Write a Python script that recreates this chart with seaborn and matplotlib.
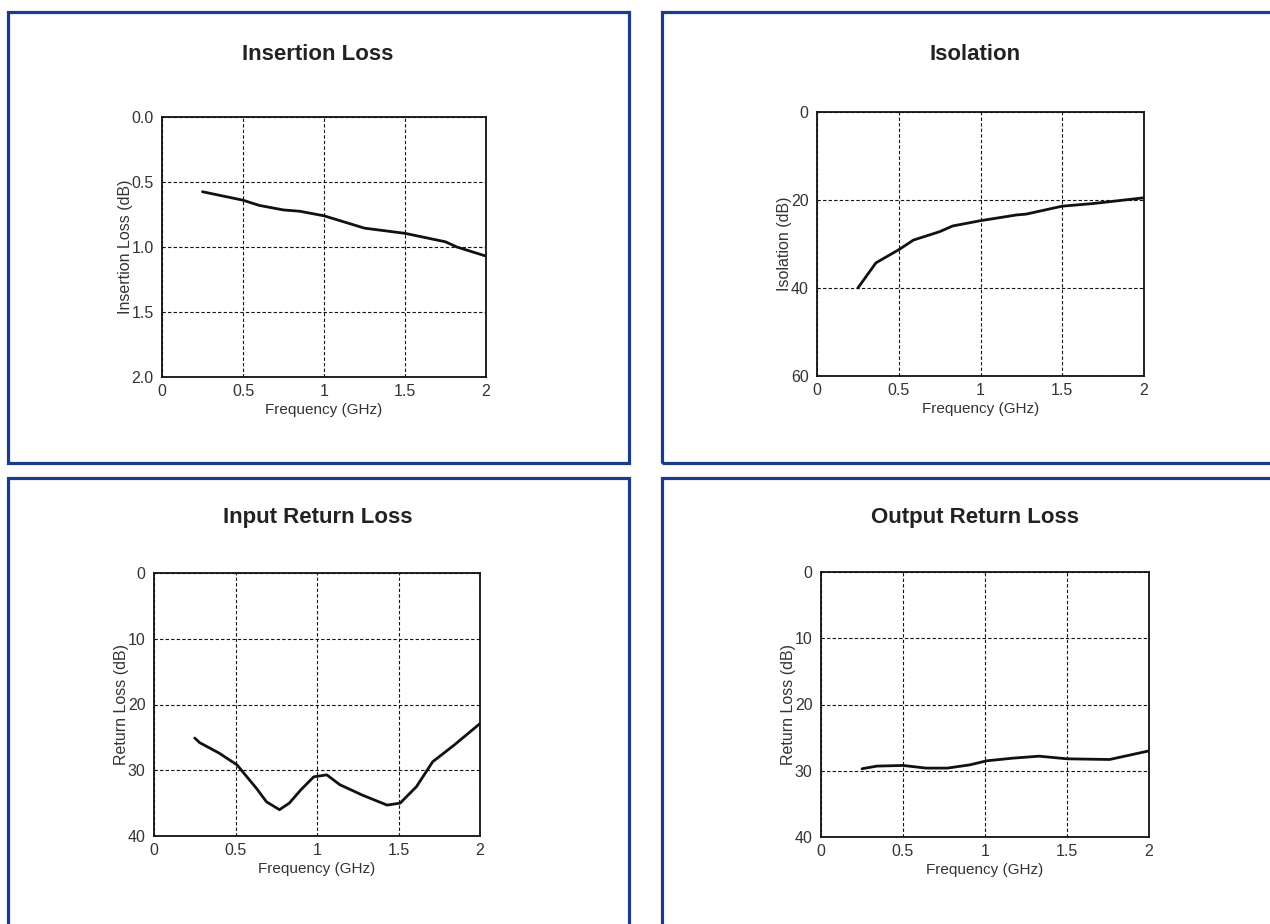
import matplotlib
matplotlib.use("Agg")
import matplotlib.pyplot as plt
from matplotlib.patches import Rectangle
import pandas as pd
import seaborn as sns

# Insertion loss (dB) vs frequency (GHz)
il_freq = [0.25, 0.5, 0.6, 0.75, 0.85, 1.0, 1.25, 1.5, 1.75, 1.82, 2.0]
il_db = [0.575, 0.64, 0.68, 0.715, 0.725, 0.76, 0.855, 0.895, 0.96, 1.0, 1.07]

# Isolation (dB)
iso_freq = [0.25, 0.36, 0.5, 0.59, 0.75, 0.83, 1.0, 1.22, 1.28, 1.5, 1.69, 2.0]
iso_db = [40.0, 34.3, 31.3, 29.1, 27.2, 25.9, 24.7, 23.4, 23.2, 21.4, 20.8, 19.5]

# Input return loss (dB)
irl_freq = [0.25, 0.28, 0.40, 0.51, 0.57, 0.63, 0.69, 0.77, 0.83, 0.90, 0.98, 1.06,
            1.14, 1.28, 1.43, 1.51, 1.61, 1.71, 1.84, 2.0]
irl_db = [25.1, 25.8, 27.4, 29.2, 31.0, 32.8, 34.8, 36.0, 35.0, 33.0, 31.0, 30.7,
          32.2, 33.8, 35.3, 35.0, 32.5, 28.7, 26.2, 22.9]

# Output return loss (dB)
orl_freq = [0.25, 0.34, 0.5, 0.64, 0.77, 0.91, 1.01, 1.17, 1.33, 1.5, 1.76, 2.0]
orl_db = [29.7, 29.3, 29.2, 29.6, 29.6, 29.1, 28.5, 28.1, 27.8, 28.2, 28.3, 27.0]

x_ticks = [0, 0.5, 1, 1.5, 2]
x_tick_labels = ["0", "0.5", "1", "1.5", "2"]

sns.set_style("white")
plt.rcParams["font.family"] = ["Liberation Sans", "DejaVu Sans"]

W, H = 1270, 924
fig = plt.figure(figsize=(12.7, 9.24), dpi=100)
border = "#1b3c8c"

# panel frames (pixel coords: x0, y0_top, x1, y1_bottom)
frames = [(8, 12, 629, 463), (662, 12, 1290, 463), (8, 478, 629, 940), (662, 478, 1290, 940)]
for x0, y0, x1, y1 in frames:
    fig.patches.append(Rectangle((x0 / W, 1 - y1 / H), (x1 - x0) / W, (y1 - y0) / H,
                                 transform=fig.transFigure, fill=False,
                                 edgecolor=border, linewidth=2.3))

panels = [
    dict(title="Insertion Loss", tx=318, ty=54, box=(162, 117, 486, 377),
         x=il_freq, y=il_db, ylim=(2.0, 0.0), yticks=[0.0, 0.5, 1.0, 1.5, 2.0],
         yfmt="{:.1f}", ylabel="Insertion Loss (dB)"),
    dict(title="Isolation", tx=975, ty=54, box=(817, 112, 1144, 376),
         x=iso_freq, y=iso_db, ylim=(60, 0), yticks=[0, 20, 40, 60],
         yfmt="{:d}", ylabel="Isolation (dB)"),
    dict(title="Input Return Loss", tx=318, ty=517, box=(154, 573, 480, 836),
         x=irl_freq, y=irl_db, ylim=(40, 0), yticks=[0, 10, 20, 30, 40],
         yfmt="{:d}", ylabel="Return Loss (dB)"),
    dict(title="Output Return Loss", tx=975, ty=517, box=(821, 572, 1149, 837),
         x=orl_freq, y=orl_db, ylim=(40, 0), yticks=[0, 10, 20, 30, 40],
         yfmt="{:d}", ylabel="Return Loss (dB)"),
]

for p in panels:
    x0, y0, x1, y1 = p["box"]
    ax = fig.add_axes([x0 / W, 1 - y1 / H, (x1 - x0) / W, (y1 - y0) / H])
    df = pd.DataFrame({"freq": p["x"], "val": p["y"]})
    sns.lineplot(data=df, x="freq", y="val", ax=ax, color="#111111", linewidth=2.0)
    ax.set_xlim(0, 2)
    ax.set_ylim(*p["ylim"])
    ax.set_xticks(x_ticks)
    ax.set_xticklabels(x_tick_labels)
    ax.set_yticks(p["yticks"])
    ax.set_yticklabels([p["yfmt"].format(v) for v in p["yticks"]])
    ax.tick_params(length=0, labelsize=11.5, colors="#333333")
    ax.tick_params(axis="x", pad=5)
    ax.tick_params(axis="y", pad=6)
    ax.grid(True, color="#111111", linestyle=(0, (3, 2)), linewidth=0.8)
    for s in ax.spines.values():
        s.set_color("#111111")
        s.set_linewidth(1.3)
    ax.set_xlabel("Frequency (GHz)", fontsize=11, labelpad=3, color="#333333")
    ax.set_ylabel(p["ylabel"], fontsize=11.5, labelpad=-1, color="#333333")
    fig.text(p["tx"] / W, 1 - p["ty"] / H, p["title"], ha="center", va="center",
             fontsize=16, fontweight="bold", color="#222222")

fig.savefig("out.png", dpi=100)
